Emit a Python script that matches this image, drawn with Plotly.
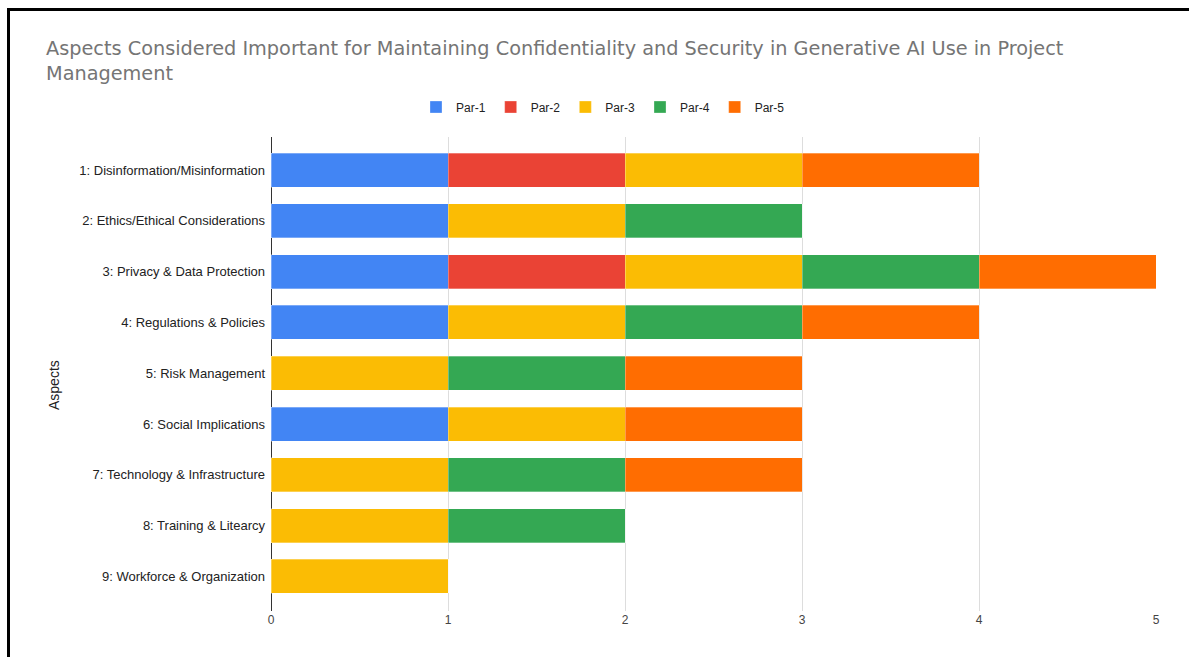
import plotly.graph_objects as go

categories = [
    "1: Disinformation/Misinformation",
    "2: Ethics/Ethical Considerations",
    "3: Privacy & Data Protection",
    "4: Regulations & Policies",
    "5: Risk Management",
    "6: Social Implications",
    "7: Technology & Infrastructure",
    "8: Training & Litearcy",
    "9: Workforce & Organization",
]
series_names = ["Par-1", "Par-2", "Par-3", "Par-4", "Par-5"]
par1 = [1, 1, 1, 1, 0, 1, 0, 0, 0]
par2 = [1, 0, 1, 0, 0, 0, 0, 0, 0]
par3 = [1, 1, 1, 1, 1, 1, 1, 1, 1]
par4 = [0, 1, 1, 1, 1, 0, 1, 1, 0]
par5 = [1, 0, 1, 1, 1, 1, 1, 0, 0]
x_ticks = [0, 1, 2, 3, 4, 5]
title_text = ("Aspects Considered Important for Maintaining Confidentiality and Security in Generative AI Use in Project"
              "<br>Management")

colors = ["#4285F4", "#EA4335", "#FBBC04", "#34A853", "#FF6D01"]
values = [par1, par2, par3, par4, par5]

fig = go.Figure()
for name, vals, col in zip(series_names, values, colors):
    fig.add_trace(go.Bar(
        y=categories, x=vals, name=name, orientation="h",
        marker=dict(color=col, line=dict(color="rgba(255,255,255,0.6)", width=0.5)),
    ))

W, H = 1189, 657
L, R, T, B = 271, 1156, 137, 611
pw, ph = R - L, B - T

def px(x):
    return (x - L) / pw

def py(y):
    return (B - y) / ph

annotations = [
    dict(
        text="Aspects", x=px(54), y=py(385), xref="paper", yref="paper",
        textangle=-90, showarrow=False, font=dict(size=14, color="#222222"),
        xanchor="center", yanchor="middle",
    ),
    dict(
        text=title_text, x=px(44), y=py(61), xref="paper", yref="paper",
        xanchor="left", yanchor="middle", align="left", showarrow=False,
        font=dict(size=19.3, color="#757575", family="DejaVu Sans, sans-serif"),
    ),
]

fig.update_layout(
    width=W, height=H,
    barmode="stack", bargap=0.33,
    margin=dict(l=L, r=W - R, t=T, b=H - B, pad=0),
    plot_bgcolor="white", paper_bgcolor="white",
    font=dict(family="Liberation Sans, Arial, sans-serif", color="#222222"),
    legend=dict(
        orientation="h", x=px(603), xanchor="center", y=py(107), yanchor="middle",
        font=dict(size=12, color="#222222"), traceorder="normal",
        itemwidth=30,
    ),
    xaxis=dict(
        range=[0, 5], tickvals=x_ticks, showgrid=True, gridcolor="#dddddd", gridwidth=1,
        zeroline=True, zerolinecolor="#333333", zerolinewidth=1,
        tickfont=dict(size=12, color="#444444"), ticks="", showline=False,
    ),
    yaxis=dict(
        categoryorder="array", categoryarray=categories,
        range=[8.68, -0.65], showgrid=False, ticks="",
        tickfont=dict(size=13, color="#222222"), ticklabelstandoff=5,
    ),
    annotations=annotations,
    shapes=[
        dict(type="line", xref="paper", yref="paper", x0=px(7), x1=px(1189), y0=py(9.5), y1=py(9.5),
             line=dict(color="black", width=3)),
        dict(type="line", xref="paper", yref="paper", x0=px(8.5), x1=px(8.5), y0=py(8), y1=py(657),
             line=dict(color="black", width=3)),
    ],
)

fig.write_html("out.html")
